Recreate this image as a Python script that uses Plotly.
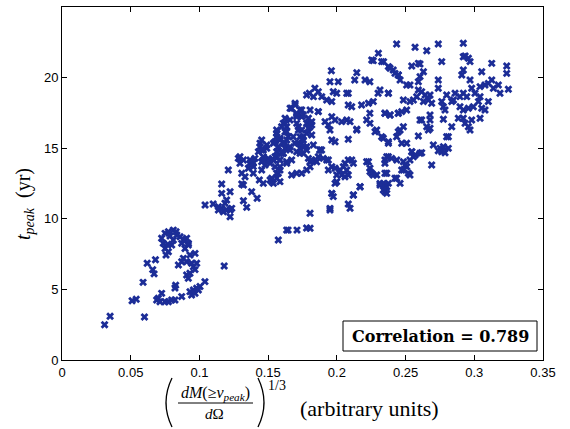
import plotly.graph_objects as go

# ---- data ----
x_low = [0.031,0.035,0.060,0.051,0.054,0.059,0.062,0.068,0.066,0.067,
         0.0725,0.075,0.0774,0.081,0.083,0.0786,0.0737,0.075,0.0774,0.0757,0.0798,0.0859,0.0883,0.0907,0.0919,0.0895,0.0871,0.081,0.0835,0.077,
         0.0931,0.0968,0.0871,0.0847,0.0907,0.0943,0.0956,0.0931,0.0919,0.0907,0.0883,0.098,0.0968,
         0.0931,0.0956,0.098,0.1004,0.104,0.0943,0.0968,0.0992,
         0.0689,0.0701,0.0725,0.075,0.0774,0.0798,0.0822,0.0871,0.0713,0.0827,0.0822,0.118,0.0895,0.092]
y_low = [2.5,3.1,3.05,4.2,4.3,5.5,6.85,7.1,6.4,6.1,
         8.62,8.97,9.09,9.2,9.09,8.78,8.26,7.9,7.67,7.44,8.14,8.73,8.5,8.62,8.14,7.9,8.26,8.5,8.85,8.2,
         7.44,7.55,6.96,6.73,6.96,6.85,6.61,6.14,5.79,6.02,7.2,6.85,6.4,
         4.84,4.96,5.08,5.2,5.55,4.6,4.72,4.96,
         4.25,4.37,4.72,4.13,4.13,4.25,4.25,4.49,4.13,5.3,5.1,6.66,8.5,8.26]

x_mid = [.1041,.110,.1138,.1162,.1186,.1198,.1223,.1223,.1162,.1223,.1162,.1138,.1174,.121,.132,
         .1344,.1308,.138,.142,.1295,.1283,.1308,.1332,.1356,.138,.1392,.1436,.1465,.1453,.1453,
         .1441,.1453,.149,.1526,.1562,.1574,.1586,.1562,.1586,.161,.1538,.1465,.1501,.1635,.1635,
         .1574,.1368,.1392,.1645,.171,.178,.1198,.1235,.132]
y_mid = [10.98,11.05,10.86,10.74,11.1,11.33,10.62,10.15,11.8,11.92,12.46,10.62,10.5,13.46,11.28,
         10.81,12.46,11.92,11.45,13.93,14.28,13.22,12.98,13.58,14.04,13.22,12.75,12.51,13.46,14.04,
         15.35,14.87,14.99,12.63,12.87,13.22,12.63,16.05,15.58,14.64,14.16,14.4,14.28,14.04,9.2,
         8.5,13.93,13.7,9.2,9.2,9.35,10.62,10.74,12.39]

x_col = [.1696,.1671,.1732,.1708,.1744,.1805,.1865,.178,.1817,.1793,.1708,.172,.1732,.172,.1623,
         .161,.1635,.1623,.1647,.1635,.161,.1562,.1586,.155,.1574,.1562,.1598,.1623,.1453,.1441,
         .1465,.149,.1429,.1732,.1756,.1708,.178,.1744,.1877,.1865,.1901,.1295,.132,.1368,.1392,
         .1404,.1465,.1477,.1514,.1538,.1562,.1586,.1586,.1659,.1671,.1635,.1793,.1805,.1853,.1926,
         .1756,.178,.1817,.1514,.1538,
         .1562,.1538,.1574,.155,.1586,.161,.1635,.1623,.1659,.1683,.1696,.172,.1744,.1756,.1756,
         .178,.1732,.1805,.1793,.1708,.1659,.1623,.1598,.1562,.1538,.1562,.1526,.1586,.155]
y_col = [18.18,17.83,17.71,17.35,17.23,17.71,17.59,16.76,16.65,16.41,16.76,16.29,15.81,15.35,17.12,
         16.76,16.52,16.17,15.81,15.58,15.35,16.05,15.7,15.46,15.11,14.75,14.64,14.99,15.58,15.11,
         14.87,15.23,14.75,14.99,14.64,14.75,15.11,15.35,14.87,14.4,14.28,14.4,14.16,14.16,13.93,
         14.28,14.16,13.81,13.93,14.16,14.4,14.16,13.69,14.87,14.16,13.93,14.28,14.04,14.04,14.16,
         15.81,16.05,15.93,12.75,12.51,
         15.81,15.35,15.11,14.4,14.16,14.64,16.17,15.35,15.11,15.81,15.35,16.52,16.29,15.58,15.11,
         14.87,14.64,16.52,17.12,17.23,17.0,16.76,16.52,16.29,14.16,13.22,12.87,13.46,13.69]

x_up = [.196,.195,.201,.2145,.213,.2205,.224,.2265,.234,.2375,.241,.2447,
        .180,.184,.1865,.178,.183,.189,.1974,.1999,.1963,.1926,.2083,.2083,.2108,
        .218,.223,.2265,.230,.2314,.2375,.224,.235,.2387,.2447,
        .166,.1696,.1708,.1744,.1756,
        .1865,.1817,.1914,.1963,.1938,.1987,.2035,.2072,.2096,.2145,.2083,
        .195,.1963,.1987,.2217,.2241,.229,.2338,.2375,.2375,.235,.2436,
        .2217,.2241,.2254,.229,.235,.2338,.2314,.2363,.235,.2423,
        .2083,.2059,.2047,.2072,.2059,.2083,.2035,
        .1938,.1963,.1987,.1938,.1999,.2023,.2108,.212,.2169,.212,.1987,.1963,.1974,.195,.2083,
        .1817,.1805,.1781,.1744,.1708,.1671,.1877]
y_up = [20.49,19.71,19.71,20.35,19.83,19.83,19.71,21.2,21.13,20.78,20.54,20.18,
        18.89,19.24,19.0,18.77,18.65,18.65,19.0,18.89,18.3,18.41,18.89,18.06,17.94,
        18.06,18.18,18.3,18.89,19.12,18.89,17.47,17.47,17.35,17.47,
        17.83,18.06,17.47,17.71,17.35,
        17.59,16.88,16.88,17.23,16.65,17.0,16.88,17.0,16.88,16.34,15.63,
        16.29,15.58,15.46,17.0,16.76,16.29,15.7,15.46,14.4,14.16,14.16,
        14.04,13.58,13.22,13.1,13.22,12.51,12.39,12.27,11.92,12.87,
        14.16,13.93,13.69,13.46,12.98,13.1,13.1,
        14.16,13.69,13.58,13.46,13.1,13.46,14.16,13.93,12.27,11.69,12.51,11.8,11.57,10.74,11.05,
        14.16,13.69,13.46,13.22,13.22,13.1,14.87]

x_r1 = [.2435,.2569,.2302,.2254,.2326,.2387,.2423,.2447,.246,.2508,.2545,.2593,.2072,.2375,.2484,
        .2532,.2581,.235,.2387,.2447,.2472,.2508,.2605,.246,.2484,.2435,
        .2145,.2278,.2326,.2375,.2447,.2472,.2508,.1829,.1889,.1817,.1999,.1963,.195,.2096,.212,
        .2169,.223,.2241,.2265,.2363,.2399,.235,.2363,.2314,.235,.2375,.2338,.2363,.2435,.246,
        .2545,.2569,.2484,.2508,.2472,.252,.2496,.1805,.1805]
y_r1 = [22.38,22.15,21.72,21.25,21.13,20.66,20.3,20.18,19.83,19.48,20.82,21.01,18.89,18.89,18.41,
        18.3,18.65,17.47,17.35,17.47,17.59,17.71,17.0,16.29,16.52,15.81,
        16.29,16.17,15.81,15.35,16.17,15.35,15.35,15.23,14.87,14.16,12.63,11.8,10.62,10.74,11.69,
        12.27,14.04,13.34,13.1,14.4,14.28,13.93,13.22,12.51,12.39,12.51,12.04,11.8,12.87,12.51,
        14.75,14.52,14.04,13.69,13.46,13.22,13.81,10.39,9.33]

x_r2 = [.2654,.2738,.292,.2933,.292,.2957,.2969,.2763,.3127,.3236,.3236,.2605,.263,.2605,.2593,.292,.2909,.2969,.3054,.2738,
        .3127,.3102,.3078,.3042,.3139,.3175,.3187,.3248,
        .2532,.2593,.2617,.2642,.2678,.263,.2666,.269,.2557,.2738,
        .2799,.286,.2896,.292,.2945,.2981,.3005,.3042,
        .2763,.2775,.2787,.2836,.2848,.2896,.292,.2957,.2993,.303,.3054,.3078,.3102,
        .2617,.2678,.2678,.2654,.2678,
        .2775,.2836,.2884,.292,.2933,.2957,.2981,.3042,.2593,.2799,
        .2666,.2811,.2969,.2702,.2617,.2545,.2557,.2532,.2751,.2775,.2811,.2763,.2787,.2738,.269,.2532,.2605,.2484]
y_r2 = [21.9,22.38,22.43,21.53,21.48,21.37,21.13,21.13,21.01,20.82,20.3,20.96,20.42,20.07,19.71,20.54,20.18,19.83,20.42,19.83,
        19.83,19.59,19.48,19.36,19.24,19.48,18.89,19.17,
        19.48,19.12,19.0,18.77,18.77,18.3,18.41,18.18,18.41,19.24,
        18.77,18.89,18.65,18.89,18.65,19.24,18.89,18.65,
        18.3,17.94,17.71,18.3,18.41,17.94,17.71,17.83,17.94,18.3,17.83,17.71,18.3,
        17.0,17.35,17.0,16.52,16.41,
        17.05,16.52,17.12,17.12,16.76,16.52,17.0,17.12,15.86,15.81,
        16.29,15.81,16.29,15.23,14.68,14.75,14.4,14.16,14.99,15.11,14.99,14.75,14.68,14.82,13.81,13.1,14.64,13.46]

x_ticks = [0, 0.05, 0.1, 0.15, 0.2, 0.25, 0.3, 0.35]
x_ticklabels = ["0", "0.05", "0.1", "0.15", "0.2", "0.25", "0.3", "0.35"]
y_ticks = [0, 5, 10, 15, 20, 25]
y_ticklabels = ["0", "5", "10", "15", "20", "25"]
corr_text = "Correlation = 0.789"

xs = x_low + x_mid + x_col + x_up + x_r1 + x_r2
ys = y_low + y_mid + y_col + y_up + y_r1 + y_r2
n = min(len(xs), len(ys))
xs, ys = xs[:n], ys[:n]

W, H = 570, 429
L, R, T, B = 62, 543, 7, 360


def px(xp):
    return (xp - L) / (R - L)


def py(yp):
    return (B - yp) / (B - T)


fig = go.Figure()
fig.add_trace(go.Scatter(
    x=xs, y=ys, mode="markers",
    marker=dict(symbol="x", size=7, color="#1c2d97", line=dict(width=0)),
    showlegend=False, hoverinfo="x+y"))

axis_common = dict(showgrid=False, zeroline=False, showline=True, linecolor="black",
                   linewidth=1, ticks="inside", ticklen=5, tickcolor="black",
                   mirror="ticks",
                   tickfont=dict(family="Liberation Sans, Arial", size=13, color="black"))

fig.update_layout(
    width=W, height=H,
    margin=dict(l=L, r=W - R, t=T, b=H - B),
    paper_bgcolor="white", plot_bgcolor="white",
    xaxis=dict(range=[0, 0.35], tickvals=x_ticks, ticktext=x_ticklabels, **axis_common),
    yaxis=dict(range=[0, 25], tickvals=y_ticks, ticktext=y_ticklabels, **axis_common),
)

serif = "Liberation Serif, Times New Roman, serif"


def note(xp, yp, text, size, family=serif, **kw):
    d = dict(xref="paper", yref="paper", x=px(xp), y=py(yp), text=text,
             showarrow=False, xanchor="center", yanchor="middle",
             font=dict(family=family, size=size, color="black"))
    d.update(kw)
    return d


ann = [
    note(24, 204, "<i>t</i><sub><i>peak</i></sub>  (yr)", 20, textangle=-90),
    note(215, 393, "<i>dM</i>(≥<i>v</i><sub><i>peak</i></sub>)", 16),
    note(214, 414, "<i>d</i>Ω", 15),
    note(277, 385, "1/3", 14),
    note(369, 409, "(arbitrary units)", 22),
    note(440, 336, "<b>" + corr_text + "</b>", 16, family="DejaVu Serif"),
]
fig.update_layout(annotations=ann)

shapes = []
shapes.append(dict(type="line", xref="paper", yref="paper",
                   x0=px(178), x1=px(253), y0=py(403), y1=py(403),
                   line=dict(color="black", width=1)))


def paren(xe, xc, y0, y1):
    ym = (y0 + y1) / 2
    return dict(type="path", xref="paper", yref="paper",
                path=f"M {px(xe)} {py(y0)} Q {px(xc)} {py(ym)} {px(xe)} {py(y1)}",
                line=dict(color="black", width=1.3))


shapes.append(paren(172, 160, 378, 427))
shapes.append(paren(258, 270, 378, 427))
shapes.append(dict(type="rect", xref="paper", yref="paper",
                   x0=px(343), x1=px(537), y0=py(351), y1=py(321),
                   line=dict(color="black", width=1), fillcolor="white", layer="below"))
fig.update_layout(shapes=shapes)

fig.write_html("out.html", config={"displayModeBar": False},
               post_script="document.body.style.margin='0px';")
